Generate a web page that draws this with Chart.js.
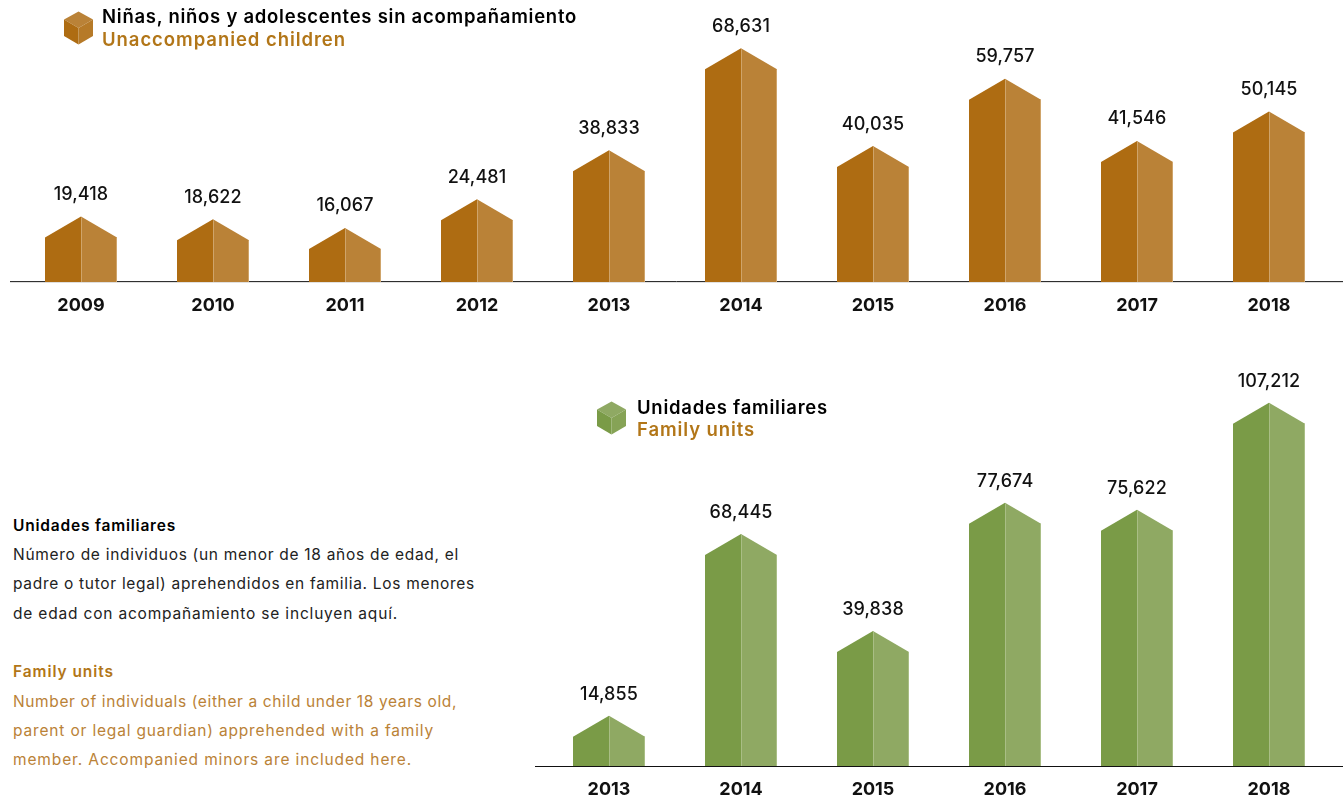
<!DOCTYPE html>
<html><head><meta charset="utf-8">
<script src="https://cdn.jsdelivr.net/npm/chart.js@4"></script>
<style>
html,body{margin:0;padding:0;background:#fff;width:1343px;height:799px;overflow:hidden}
body{position:relative;font-family:Inter,"Open Sans",sans-serif}
canvas{position:absolute}
.t{position:absolute;white-space:nowrap;line-height:1}
.h{font-size:18.5px;font-weight:600}
.k{color:#000}.b{color:#B27618}
.p{font-size:15.5px;font-weight:400;color:#222}
.p.b{color:#BA8237}
.p.s{font-weight:600}
.p.s.k{color:#000}
.p.s.b{color:#B27618}
svg{position:absolute}
</style></head><body>
<canvas id="c1" width="1343" height="320" style="left:0;top:0;width:1343px;height:320px"></canvas>
<canvas id="c2" width="823" height="439" style="left:520px;top:360px;width:823px;height:439px"></canvas>

<svg style="left:64px;top:11px" width="30" height="34" viewBox="0 0 30 34"><polygon points="14.5,0.5 29,8.5 14.5,17 0,8.5" fill="#BA8237"/><polygon points="0,8.5 14.5,17 14.5,33.5 0,25" fill="#AE6C12"/><polygon points="29,8.5 14.5,17 14.5,33.5 29,25" fill="#B67A28"/></svg>
<svg style="left:597px;top:401px" width="30" height="34" viewBox="0 0 30 34"><polygon points="14.5,0.5 29,8.5 14.5,17 0,8.5" fill="#8FA963"/><polygon points="0,8.5 14.5,17 14.5,33.5 0,25" fill="#7A9B47"/><polygon points="29,8.5 14.5,17 14.5,33.5 29,25" fill="#86A356"/></svg>

<div class="t h k" data-w="475" style="left:102px;top:7px">Niñas, niños y adolescentes sin acompañamiento</div>
<div class="t h b" data-w="244" style="left:102px;top:30px">Unaccompanied children</div>
<div class="t h k" data-w="191" style="left:637px;top:398px">Unidades familiares</div>
<div class="t h b" data-w="118" style="left:637px;top:420px">Family units</div>

<div class="t p s k" data-w="163" style="left:13px;top:518px">Unidades familiares</div>
<div class="t p" data-w="446" style="left:13px;top:547px">Número de individuos (un menor de 18 años de edad, el</div>
<div class="t p" data-w="462" style="left:13px;top:576px">padre o tutor legal) aprehendidos en familia. Los menores</div>
<div class="t p" data-w="385" style="left:13px;top:606px">de edad con acompañamiento se incluyen aquí.</div>
<div class="t p s b" data-w="101" style="left:13px;top:664px">Family units</div>
<div class="t p b" data-w="444" style="left:13px;top:694px">Number of individuals (either a child under 18 years old,</div>
<div class="t p b" data-w="421" style="left:13px;top:723px">parent or legal guardian) apprehended with a family</div>
<div class="t p b" data-w="399" style="left:13px;top:752px">member. Accompanied minors are included here.</div>

<script>
const yearsUnaccompanied = ["2009","2010","2011","2012","2013","2014","2015","2016","2017","2018"];
const valuesUnaccompanied = [19418,18622,16067,24481,38833,68631,40035,59757,41546,50145];
const yearsFamily = ["2013","2014","2015","2016","2017","2018"];
const valuesFamily = [14855,68445,39838,77674,75622,107212];

document.querySelectorAll('.t[data-w]').forEach(el => {
  const target = +el.dataset.w, w = el.getBoundingClientRect().width, n = el.textContent.length;
  el.style.letterSpacing = ((target - w) / n).toFixed(3) + 'px';
});

const houseBars = {
  id: 'houseBars',
  afterDatasetsDraw(chart, args, o) {
    const ctx = chart.ctx, meta = chart.getDatasetMeta(0), ds = chart.data.datasets[0];
    const base = chart.scales.x.top;
    ctx.save();
    ctx.strokeStyle = '#111'; ctx.lineWidth = 1;
    ctx.beginPath(); ctx.moveTo(o.axisFrom, base+o.lineOffset); ctx.lineTo(chart.width, base+o.lineOffset); ctx.stroke();
    ctx.restore();
    meta.data.forEach((el, i) => {
      const x = Math.round(el.x), y = el.y, hw = 36, sh = 21, b = base;
      ctx.save();
      ctx.fillStyle = o.dark;
      ctx.beginPath(); ctx.moveTo(x-hw,b); ctx.lineTo(x-hw,y+sh); ctx.lineTo(x,y); ctx.lineTo(x,b); ctx.closePath(); ctx.fill();
      ctx.fillStyle = o.light;
      ctx.beginPath(); ctx.moveTo(x,b); ctx.lineTo(x,y); ctx.lineTo(x+hw,y+sh); ctx.lineTo(x+hw,b); ctx.closePath(); ctx.fill();
      ctx.strokeStyle = o.edge; ctx.lineWidth = 1;
      ctx.beginPath(); ctx.moveTo(x+.5,y+1); ctx.lineTo(x+.5,b); ctx.stroke();
      ctx.beginPath(); ctx.moveTo(x+hw-.5,y+sh); ctx.lineTo(x+hw-.5,b); ctx.stroke();
      ctx.restore();
      ctx.save();
      ctx.fillStyle = '#111';
      ctx.font = '500 18px Inter';
      ctx.letterSpacing = '0.1px';
      ctx.textAlign = 'center'; ctx.textBaseline = 'middle';
      ctx.fillText(ds.data[i].toLocaleString('en-US'), x, y - o.labelGap);
      ctx.restore();
    });
  }
};

function makeChart(id, labels, data, yMin, yMax, left, axisH, colors) {
  return new Chart(document.getElementById(id), {
    type: 'bar',
    plugins: [houseBars],
    data: { labels, datasets: [{ data, backgroundColor: 'rgba(0,0,0,0)', borderWidth: 0, barThickness: 72 }] },
    options: {
      responsive: false, animation: false,
      layout: { padding: { left, right: 8, top: 0, bottom: 0 } },
      plugins: { legend: { display: false }, tooltip: { enabled: false }, title: { display: false }, houseBars: colors },
      scales: {
        x: {
          grid: { display: false, drawTicks: false }, border: { display: false },
          afterFit: s => { s.height = axisH; },
          ticks: { color: '#111', padding: 13, maxRotation: 0, autoSkip: false, font: { family: 'Inter', size: 18, weight: '700' } }
        },
        y: { display: false, min: yMin, max: yMax }
      }
    }
  });
}
makeChart('c1', yearsUnaccompanied, valuesUnaccompanied, 300, 82750, 15, 38,
  { dark:'#AE6C12', light:'#BA8237', edge:'#CFA46A', labelGap:22, axisFrom:10, lineOffset:-0.35 });
makeChart('c2', yearsFamily, valuesFamily, 0, 119800, 23, 33,
  { dark:'#7A9B47', light:'#8FA963', edge:'#A9BE85', labelGap:21, axisFrom:15, lineOffset:0.5 });
</script>
</body></html>
